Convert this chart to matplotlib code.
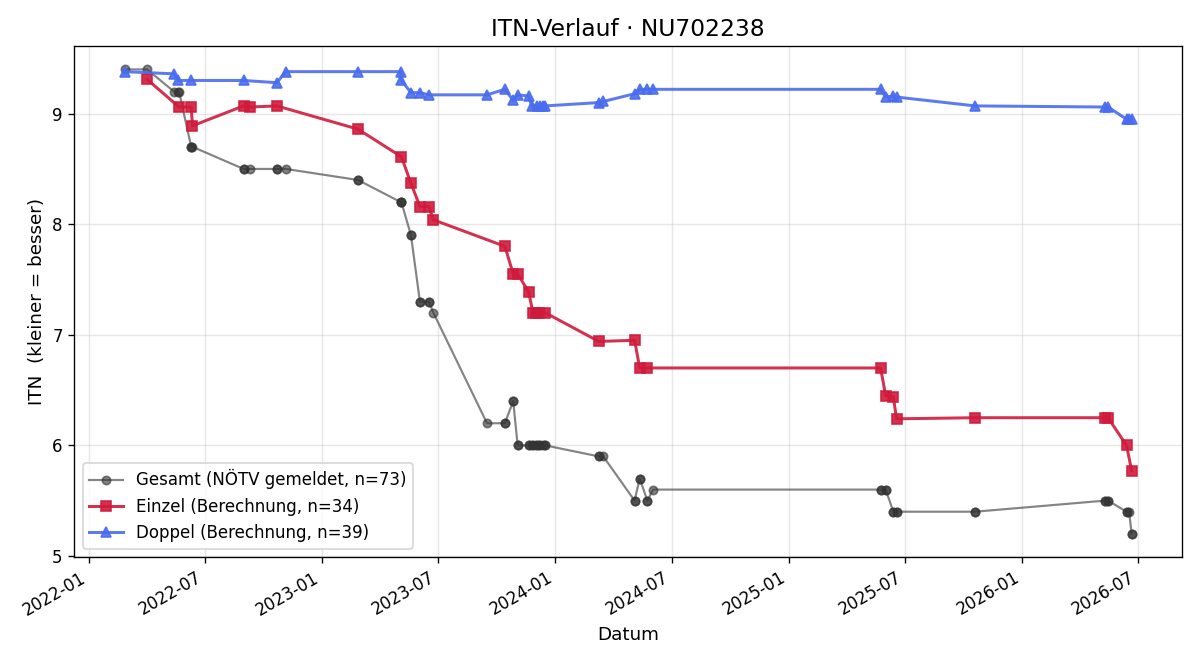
import pandas as pd
import matplotlib
matplotlib.use('Agg')
import matplotlib.pyplot as plt
import matplotlib.dates as mdates

# Einzel (Berechnung)
einzel_dates = ['2022-04-02', '2022-05-22', '2022-06-10', '2022-06-12', '2022-08-31', '2022-09-10',
                '2022-10-22', '2023-02-26', '2023-05-05', '2023-05-20', '2023-06-03', '2023-06-17',
                '2023-06-24', '2023-10-14', '2023-10-27', '2023-11-03', '2023-11-20', '2023-11-27',
                '2023-12-02', '2023-12-06', '2023-12-16', '2024-03-09', '2024-05-04', '2024-05-12',
                '2024-05-24', '2025-05-24', '2025-06-01', '2025-06-13', '2025-06-18', '2025-10-19',
                '2026-05-10', '2026-05-15', '2026-06-13', '2026-06-21']
einzel_itn = [9.31, 9.06, 9.06, 8.89, 9.07, 9.06,
              9.07, 8.86, 8.61, 8.37, 8.16, 8.16,
              8.04, 7.80, 7.55, 7.55, 7.39, 7.20,
              7.20, 7.20, 7.20, 6.94, 6.95, 6.70,
              6.70, 6.70, 6.45, 6.44, 6.24, 6.25,
              6.25, 6.25, 6.00, 5.77]

# Doppel (Berechnung)
doppel_dates = ['2022-02-26', '2022-05-14', '2022-05-21', '2022-06-10', '2022-08-31', '2022-10-22',
                '2022-11-05', '2023-02-26', '2023-05-04', '2023-05-05', '2023-05-20', '2023-06-03',
                '2023-06-17', '2023-09-16', '2023-10-14', '2023-10-27', '2023-11-03', '2023-11-20',
                '2023-11-25', '2023-12-03', '2023-12-08', '2023-12-12', '2023-12-16', '2024-03-09',
                '2024-03-16', '2024-05-04', '2024-05-12', '2024-05-24', '2024-06-02', '2025-05-24',
                '2025-06-01', '2025-06-13', '2025-06-18', '2025-10-19', '2026-05-10', '2026-05-15',
                '2026-06-13', '2026-06-17', '2026-06-21']
doppel_itn = [9.38, 9.36, 9.30, 9.30, 9.30, 9.28,
              9.38, 9.38, 9.38, 9.30, 9.19, 9.19,
              9.17, 9.17, 9.22, 9.12, 9.17, 9.16,
              9.07, 9.07, 9.07, 9.07, 9.07, 9.10,
              9.11, 9.18, 9.22, 9.22, 9.22, 9.22,
              9.15, 9.16, 9.15, 9.07, 9.06, 9.06,
              8.95, 8.95, 8.95]

# Gesamt (NÖTV gemeldet)
gesamt_dates = ['2022-02-26', '2022-04-02', '2022-05-14', '2022-05-21', '2022-05-22', '2022-06-10',
                '2022-06-10', '2022-06-12', '2022-08-31', '2022-08-31', '2022-09-10', '2022-10-22',
                '2022-10-22', '2022-11-05', '2023-02-26', '2023-02-26', '2023-05-04', '2023-05-05',
                '2023-05-05', '2023-05-20', '2023-05-20', '2023-06-03', '2023-06-03', '2023-06-17',
                '2023-06-17', '2023-06-24', '2023-09-16', '2023-10-14', '2023-10-14', '2023-10-27',
                '2023-10-27', '2023-11-03', '2023-11-03', '2023-11-20', '2023-11-20', '2023-11-25',
                '2023-11-27', '2023-12-02', '2023-12-03', '2023-12-06', '2023-12-08', '2023-12-12',
                '2023-12-16', '2023-12-16', '2024-03-09', '2024-03-09', '2024-03-16', '2024-05-04',
                '2024-05-04', '2024-05-12', '2024-05-12', '2024-05-24', '2024-05-24', '2024-06-02',
                '2025-05-24', '2025-05-24', '2025-06-01', '2025-06-01', '2025-06-13', '2025-06-13',
                '2025-06-18', '2025-06-18', '2025-10-19', '2025-10-19', '2026-05-10', '2026-05-10',
                '2026-05-15', '2026-05-15', '2026-06-13', '2026-06-13', '2026-06-17', '2026-06-21',
                '2026-06-21']
gesamt_itn = [9.4, 9.4, 9.2, 9.2, 9.2, 8.7,
              8.7, 8.7, 8.5, 8.5, 8.5, 8.5,
              8.5, 8.5, 8.4, 8.4, 8.2, 8.2,
              8.2, 7.9, 7.9, 7.3, 7.3, 7.3,
              7.3, 7.2, 6.2, 6.2, 6.2, 6.4,
              6.4, 6.0, 6.0, 6.0, 6.0, 6.0,
              6.0, 6.0, 6.0, 6.0, 6.0, 6.0,
              6.0, 6.0, 5.9, 5.9, 5.9, 5.5,
              5.5, 5.7, 5.7, 5.5, 5.5, 5.6,
              5.6, 5.6, 5.6, 5.6, 5.4, 5.4,
              5.4, 5.4, 5.4, 5.4, 5.5, 5.5,
              5.5, 5.5, 5.4, 5.4, 5.4, 5.2,
              5.2]

fig, ax = plt.subplots(figsize=(10, 5.5), dpi=120)

ax.plot(pd.to_datetime(gesamt_dates), gesamt_itn, marker='o', color='#333333', alpha=0.6,
        lw=1.3, markersize=5, label=f'Gesamt (NÖTV gemeldet, n={len(gesamt_itn)})')
ax.plot(pd.to_datetime(einzel_dates), einzel_itn, marker='s', color='#d01a3c', alpha=0.9,
        lw=1.8, markersize=6, label=f'Einzel (Berechnung, n={len(einzel_itn)})')
ax.plot(pd.to_datetime(doppel_dates), doppel_itn, marker='^', color='#4a6cf0', alpha=0.9,
        lw=1.8, markersize=6, label=f'Doppel (Berechnung, n={len(doppel_itn)})')

ax.set_title('ITN-Verlauf · NU702238', fontsize=14)
ax.set_xlabel('Datum', fontsize=11)
ax.set_ylabel('ITN  (kleiner = besser)', fontsize=11)
ax.grid(True, alpha=0.3)
ax.xaxis.set_major_locator(mdates.MonthLocator(bymonth=[1, 7]))
ax.xaxis.set_major_formatter(mdates.DateFormatter('%Y-%m'))
ax.legend(loc='lower left')
fig.autofmt_xdate()

plt.subplots_adjust(left=0.062, right=0.985, top=0.930, bottom=0.156)
plt.savefig('out.png')
